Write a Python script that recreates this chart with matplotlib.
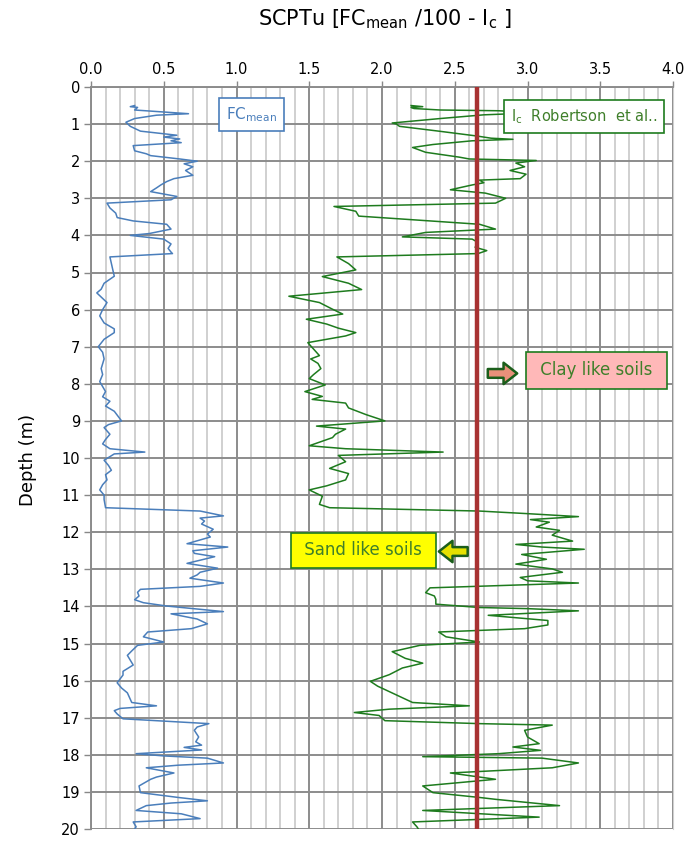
import numpy as np
import matplotlib.pyplot as plt
from matplotlib.ticker import MultipleLocator

# FC_mean / 100 trace (blue) - depth (m) and value
fc_depth = [0.50, 0.53, 0.55, 0.62, 0.70, 0.72, 0.76, 0.85, 0.95, 1.06, 1.19, 1.30, 1.35, 1.40,
            1.45, 1.50, 1.58, 1.72, 1.80, 1.85, 1.94, 2.00, 2.07, 2.15, 2.25, 2.38, 2.47, 2.55,
            2.64, 2.72, 2.82, 2.95, 3.04, 3.13, 3.26, 3.40, 3.52, 3.61, 3.70, 3.83, 3.95, 4.00,
            4.10, 4.23, 4.35, 4.45, 4.49, 4.58, 4.76, 4.93, 5.10, 5.29, 5.45, 5.55, 5.70, 5.81,
            6.00, 6.17, 6.36, 6.52, 6.62, 6.80, 7.00, 7.15, 7.33, 7.59, 7.75, 7.94, 8.21, 8.35,
            8.47, 8.60, 8.74, 9.00, 9.10, 9.18, 9.36, 9.50, 9.62, 9.75, 9.84, 9.89, 10.06, 10.20,
            10.33, 10.45, 10.59, 10.72, 10.86, 11.00, 11.12, 11.34, 11.43, 11.56, 11.62, 11.70,
            11.78, 11.92, 12.05, 12.13, 12.31, 12.40, 12.50, 12.57, 12.66, 12.84, 12.97, 13.08,
            13.15, 13.24, 13.37, 13.46, 13.54, 13.62, 13.72, 13.82, 13.90, 13.99, 14.06, 14.14,
            14.20, 14.34, 14.47, 14.60, 14.69, 14.82, 14.96, 15.05, 15.20, 15.32, 15.45, 15.58,
            15.75, 15.85, 16.06, 16.20, 16.33, 16.50, 16.59, 16.68, 16.75, 16.81, 16.90, 17.03,
            17.16, 17.25, 17.34, 17.52, 17.65, 17.74, 17.80, 17.87, 17.97, 18.03, 18.09, 18.22,
            18.28, 18.35, 18.49, 18.60, 18.66, 18.84, 19.02, 19.15, 19.24, 19.30, 19.37, 19.50,
            19.59, 19.72, 19.81, 19.94, 20.00]
fc_value = [0.30, 0.27, 0.32, 0.30, 0.60, 0.67, 0.45, 0.30, 0.24, 0.27, 0.34, 0.59, 0.50, 0.61,
            0.55, 0.62, 0.29, 0.30, 0.38, 0.41, 0.61, 0.73, 0.64, 0.70, 0.65, 0.70, 0.57, 0.52,
            0.48, 0.45, 0.41, 0.59, 0.55, 0.11, 0.13, 0.17, 0.18, 0.29, 0.52, 0.55, 0.40, 0.27,
            0.50, 0.55, 0.53, 0.55, 0.56, 0.13, 0.14, 0.15, 0.16, 0.09, 0.07, 0.04, 0.08, 0.11,
            0.08, 0.06, 0.09, 0.16, 0.16, 0.09, 0.05, 0.08, 0.09, 0.07, 0.08, 0.06, 0.10, 0.08,
            0.13, 0.10, 0.16, 0.21, 0.12, 0.09, 0.13, 0.10, 0.08, 0.13, 0.37, 0.16, 0.09, 0.12,
            0.14, 0.10, 0.11, 0.08, 0.06, 0.09, 0.09, 0.10, 0.75, 0.91, 0.75, 0.78,
            0.76, 0.84, 0.80, 0.82, 0.66, 0.94, 0.70, 0.71, 0.85, 0.66, 0.87, 0.75,
            0.73, 0.68, 0.91, 0.75, 0.34, 0.32, 0.33, 0.30, 0.36, 0.52, 0.70, 0.91,
            0.55, 0.73, 0.80, 0.69, 0.39, 0.36, 0.50, 0.32, 0.28, 0.25, 0.27, 0.29,
            0.22, 0.22, 0.18, 0.21, 0.25, 0.27, 0.28, 0.45, 0.20, 0.16, 0.18, 0.22,
            0.81, 0.73, 0.71, 0.74, 0.72, 0.76, 0.64, 0.76, 0.31, 0.50, 0.80, 0.91,
            0.60, 0.38, 0.57, 0.45, 0.41, 0.33, 0.34, 0.60, 0.80, 0.55, 0.38, 0.31,
            0.62, 0.75, 0.29, 0.31, 0.30]

# Ic (Robertson et al.) trace (green)
ic_depth = [0.50, 0.53, 0.55, 0.58, 0.62, 0.64, 0.66, 0.72, 0.75, 0.85, 0.97, 1.00, 1.06, 1.19,
            1.32, 1.38, 1.41, 1.45, 1.55, 1.63, 1.76, 1.89, 1.94, 1.98, 2.05, 2.15, 2.25, 2.35,
            2.47, 2.51, 2.58, 2.64, 2.70, 2.77, 2.86, 3.00, 3.13, 3.22, 3.35, 3.48, 3.61, 3.70,
            3.83, 3.92, 4.04, 4.10, 4.19, 4.32, 4.41, 4.49, 4.58, 4.76, 4.93, 5.11, 5.29, 5.46,
            5.64, 5.81, 5.99, 6.12, 6.26, 6.39, 6.50, 6.62, 6.71, 6.89, 7.02, 7.24, 7.33, 7.45,
            7.59, 7.75, 7.86, 8.03, 8.21, 8.34, 8.42, 8.52, 8.65, 8.83, 9.00, 9.14, 9.22, 9.36,
            9.45, 9.67, 9.75, 9.84, 9.93, 10.10, 10.28, 10.42, 10.59, 10.75, 10.86, 11.03, 11.25,
            11.34, 11.43, 11.50, 11.58, 11.66, 11.73, 11.86, 11.95, 12.08, 12.24, 12.33, 12.40,
            12.46, 12.60, 12.73, 12.86, 12.99, 13.08, 13.22, 13.31, 13.37, 13.50, 13.63, 13.72,
            13.81, 13.94, 14.03, 14.06, 14.12, 14.24, 14.38, 14.50, 14.60, 14.69, 14.82, 14.96,
            15.05, 15.22, 15.40, 15.53, 15.66, 15.84, 16.02, 16.15, 16.37, 16.59, 16.68, 16.77,
            16.86, 16.94, 17.08, 17.16, 17.20, 17.34, 17.52, 17.70, 17.79, 17.88, 17.97, 18.05,
            18.09, 18.22, 18.35, 18.49, 18.66, 18.84, 19.02, 19.15, 19.20, 19.37, 19.50, 19.68,
            19.81, 19.94, 20.00]
ic_value = [2.20, 2.28, 2.20, 2.22, 2.40, 2.80, 2.90, 2.90, 2.70, 2.40, 2.07, 2.10, 2.12, 2.39,
            2.65, 2.75, 2.90, 2.62, 2.35, 2.21, 2.30, 2.53, 2.60, 3.06, 2.92, 2.98, 2.88, 2.99,
            2.95, 2.67, 2.70, 2.62, 2.55, 2.47, 2.71, 2.85, 2.78, 1.67, 1.82, 1.84, 2.33, 2.67,
            2.78, 2.30, 2.14, 2.62, 2.66, 2.64, 2.72, 2.66, 1.69, 1.77, 1.82, 1.59, 1.77, 1.86,
            1.36, 1.57, 1.66, 1.73, 1.48, 1.62, 1.70, 1.82, 1.75, 1.49, 1.52, 1.57, 1.51, 1.56,
            1.58, 1.53, 1.50, 1.61, 1.47, 1.59, 1.52, 1.75, 1.77, 1.89, 2.02, 1.55, 1.75, 1.68,
            1.66, 1.50, 1.75, 2.42, 1.70, 1.75, 1.64, 1.77, 1.75, 1.62, 1.50, 1.59, 1.57,
            1.64, 2.67, 3.00, 3.35, 3.02, 3.15, 3.06, 3.22, 3.17, 3.31, 2.92, 3.10,
            3.39, 2.96, 3.13, 2.92, 3.17, 3.24, 2.95, 3.00, 3.35, 2.33, 2.30, 2.36,
            2.37, 2.37, 2.67, 3.00, 3.35, 2.73, 3.14, 3.14, 2.98, 2.39, 2.44, 2.67,
            2.26, 2.07, 2.16, 2.28, 2.14, 2.05, 1.92, 1.97, 2.09, 2.21, 2.60, 2.05,
            1.81, 1.98, 2.02, 2.67, 3.17, 2.98, 3.00, 3.08, 2.90, 3.09, 2.80, 2.28,
            3.10, 3.35, 3.17, 2.47, 2.78, 2.28, 2.35, 2.67, 2.78, 3.22, 2.28, 3.08,
            2.21, 2.24, 2.25]

ic_limit = 2.65

BLUE = '#4A7EBB'
GREEN = '#1E7B1E'
TEXT_GREEN = '#3F7F2A'

fig = plt.figure(figsize=(7, 8.41), dpi=100)
ax = fig.add_axes([91 / 700, 1 - 829 / 841, 582 / 700, 742 / 841])

ax.plot(fc_value, fc_depth, color=BLUE, lw=1.1, zorder=3)
ax.plot(ic_value, ic_depth, color=GREEN, lw=1.1, zorder=3)
ax.axvline(ic_limit, color='#A83232', lw=3.2, zorder=4)

ax.set_xlim(0, 4)
ax.set_ylim(20, 0)
ax.xaxis.set_major_locator(MultipleLocator(0.5))
ax.xaxis.set_minor_locator(MultipleLocator(0.1))
ax.yaxis.set_major_locator(MultipleLocator(1))
ax.xaxis.set_major_formatter(plt.FormatStrFormatter('%.1f'))
ax.xaxis.tick_top()
ax.tick_params(axis='x', which='major', top=True, bottom=False, length=4, width=1,
               color='#888888', labelsize=10.5, pad=3)
ax.tick_params(axis='x', which='minor', top=False, bottom=False)
ax.tick_params(axis='y', which='major', left=True, length=5, width=1,
               color='#888888', labelsize=10.5, pad=3)

ax.grid(True, axis='x', which='minor', color='#D0D0D0', lw=1.4, zorder=0)
ax.grid(True, axis='x', which='major', color='#8C8C8C', lw=1.4, zorder=1)
ax.grid(True, axis='y', which='major', color='#8C8C8C', lw=1.4, zorder=1)
ax.set_axisbelow(True)
for side in ['top', 'left']:
    ax.spines[side].set_color('#8C8C8C')
    ax.spines[side].set_linewidth(1.4)
ax.spines['right'].set_color('#D0D0D0')
ax.spines['bottom'].set_visible(False)

fig.text(385 / 700, 1 - 19 / 841, 'SCPTu [FC$_\\mathregular{mean}$ /100 - I$_\\mathregular{c}$ ]',
         ha='center', va='center', fontsize=15)
fig.text(28 / 700, 1 - 460 / 841, 'Depth (m)', rotation=90, ha='center', va='center', fontsize=13)

# series labels
ax.text(0.276, 0.963, 'FC$_\\mathregular{mean}$', transform=ax.transAxes, ha='center', va='center',
        fontsize=11, color=BLUE, zorder=6,
        bbox=dict(boxstyle='square,pad=0.45', fc='white', ec=BLUE, lw=1.2))
ax.text(0.847, 0.960, 'I$_\\mathregular{c}$  Robertson  et al..', transform=ax.transAxes,
        ha='center', va='center', fontsize=10.5, color=TEXT_GREEN, zorder=6,
        bbox=dict(boxstyle='square,pad=0.5', fc='white', ec=GREEN, lw=1.2))

# soil type boxes and arrows
ax.text(0.869, 0.618, ' Clay like soils ', transform=ax.transAxes, ha='center', va='center',
        fontsize=12, color=TEXT_GREEN, zorder=6,
        bbox=dict(boxstyle='square,pad=0.55', fc='#FFB8B8', ec=GREEN, lw=1.2))
ax.annotate('', xy=(0.737, 0.614), xytext=(0.677, 0.614), xycoords='axes fraction',
            arrowprops=dict(arrowstyle='simple,head_length=0.7,head_width=1.1,tail_width=0.45',
                            fc='#E8907A', ec='#1B5E1B', lw=1.8, mutation_scale=14), zorder=6)
ax.text(0.468, 0.3755, ' Sand like soils ', transform=ax.transAxes, ha='center', va='center',
        fontsize=12, color=TEXT_GREEN, zorder=6,
        bbox=dict(boxstyle='square,pad=0.5', fc='#FFFF00', ec=GREEN, lw=1.2))
ax.annotate('', xy=(0.593, 0.374), xytext=(0.652, 0.374), xycoords='axes fraction',
            arrowprops=dict(arrowstyle='simple,head_length=0.7,head_width=1.1,tail_width=0.45',
                            fc='#E5E000', ec='#1B5E1B', lw=1.8, mutation_scale=14), zorder=6)

fig.savefig('out.png', dpi=100)
